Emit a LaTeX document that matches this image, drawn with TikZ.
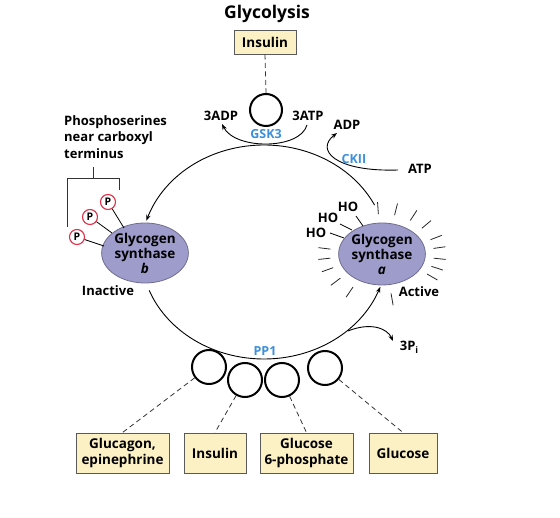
\documentclass[tikz,border=0pt]{standalone}
\usepackage{fontspec}
\setmainfont{Open Sans}
\usetikzlibrary{arrows.meta,shapes.geometric}
\definecolor{boxfill}{HTML}{FCF1C4}
\definecolor{boxline}{HTML}{5A5A5A}
\definecolor{enz}{HTML}{9E9CCB}
\definecolor{enzline}{HTML}{6F6D8F}
\definecolor{kin}{HTML}{3C8FD8}
\definecolor{pred}{HTML}{E03048}
\begin{document}
\begin{tikzpicture}[x=1pt,y=-1pt,
  lbl/.style={font=\bfseries\fontsize{13}{14}\selectfont, inner sep=0pt},
  kinlbl/.style={font=\bfseries\fontsize{12.5}{13}\selectfont, text=kin, inner sep=0pt},
  regbox/.style={draw=boxline, fill=boxfill, line width=0.9pt, minimum height=40pt, inner sep=2pt, align=center, font=\bfseries\fontsize{13.5}{16}\selectfont},
  enzyme/.style={ellipse, draw=enzline, fill=enz, line width=0.8pt, minimum width=86pt, minimum height=60pt, inner sep=0pt, align=center, font=\bfseries\fontsize{13.5}{15}\selectfont},
  ring/.style={circle, draw=black, line width=2pt, minimum size=34pt, inner sep=0pt},
  pcirc/.style={circle, draw=pred, fill=white, line width=1.1pt, minimum size=15pt, inner sep=0pt, font=\bfseries\fontsize{10.5}{10.5}\selectfont},
  dashlink/.style={dashed, dash pattern=on 5pt off 3.5pt, line width=0.8pt, draw=black!80},
  conn/.style={line width=0.9pt, -{Stealth[length=6pt,width=4.5pt]}},
  tick/.style={line width=0.8pt, draw=black!85}
]
\useasboundingbox (0,0) rectangle (560,518);

% title and insulin regulator
\node[font=\bfseries\fontsize{17.5}{19}\selectfont] (title) at (267,14) {Glycolysis};
\node[regbox, minimum width=62pt, minimum height=24pt] (ins1) at (265,42) {Insulin};
\node[ring, minimum size=32pt] (gsk) at (266,110) {};
\draw[dashlink] (ins1.south) -- (gsk.north);

% GSK3 reaction
\node[lbl] (adp3) at (221,116) {3ADP};
\node[lbl] (atp3) at (308,116) {3ATP};
\node[kinlbl] (gsk3) at (266,134) {GSK3};
\coordinate (gskA) at (307,125);
\coordinate (gskB) at (222,124);
\draw[conn] (gskA) .. controls (300,150) and (235,150) .. (gskB);

% CKII reaction
\node[lbl] (adp) at (347,125) {ADP};
\node[lbl] (atp) at (420,169) {ATP};
\node[kinlbl] (ckii) at (354,159) {CKII};
\coordinate (ckA) at (398,170);
\coordinate (ckB) at (337,133);
\draw[conn] (ckA) .. controls (335,172) and (315,150) .. (ckB);

% enzymes
\node[enzyme] (gsb) at (145,253) {Glycogen\\synthase\\\textit{b}};
\node[enzyme, minimum height=62pt] (gsa) at (382,254) {Glycogen\\synthase\\\textit{a}};
\node[lbl] (inact) at (108,291) {Inactive};
\node[lbl] (act) at (419,292) {Active};

% main cycle
\draw[conn] plot[domain=26:163, samples=80] ({264+123*cos(\x)}, {252-107*sin(\x)});
\draw[conn] plot[domain=201:341, samples=80] ({264+123*cos(\x)}, {252-107*sin(\x)});

% phosphoserines
\node[pcirc] (p1) at (77,237) {P};
\node[pcirc] (p2) at (90,217) {P};
\node[pcirc] (p3) at (108,202) {P};
\coordinate (e1) at (104,246);
\coordinate (e2) at (112,233);
\coordinate (e3) at (124,228);
\draw[line width=0.8pt] (p1) -- (e1);
\draw[line width=0.8pt] (p2) -- (e2);
\draw[line width=0.8pt] (p3) -- (e3);
\draw[line width=0.9pt, draw=black!80] (67,227) -- (67,178) -- (119,178) -- (119,190);
\draw[line width=0.9pt, draw=black!80] (93,178) -- (93,167);
\node[lbl, align=left, anchor=north west, font=\bfseries\fontsize{13}{16.5}\selectfont] (phos) at (64,115) {Phosphoserines\\near carboxyl\\terminus};

% hydroxyls
\node[lbl] (ho1) at (348,207) {HO};
\node[lbl] (ho2) at (328,218) {HO};
\node[lbl] (ho3) at (316,233) {HO};
\draw[line width=0.8pt] (356,216) -- (363,226);
\draw[line width=0.8pt] (340,224) -- (352,230);
\draw[line width=0.8pt] (330,233) -- (344,238);

% activity rays
\foreach \t in {94,76,57,40,21,8,-6,-18,-30,-80,-124,-143,-160,-174,173}
  \draw[tick] ({382+(43+9)*cos(\t)}, {254-(31+9)*sin(\t)}) -- ({382+(43+21)*cos(\t)}, {254-(31+21)*sin(\t)});

% PP1 reaction
\node[kinlbl] (pp1) at (265,351) {PP1};
\coordinate (piA) at (348,331);
\coordinate (piB) at (393,341);
\draw[conn] (piA) .. controls (370,322) and (387,328) .. (piB);
\node[lbl] (pi) at (409,347) {3P\raisebox{-3pt}{\fontsize{9}{9}\selectfont i}};

% PP1 regulator rings
\node[ring] (r1) at (209,367) {};
\node[ring] (r2) at (245,380) {};
\node[ring] (r3) at (282,380) {};
\node[ring] (r4) at (325,368) {};

% bottom regulators
\node[regbox, minimum width=93pt] (glu) at (122.5,453) {Glucagon,\\epinephrine};
\node[regbox, minimum width=62pt] (ins2) at (215,453) {Insulin};
\node[regbox, minimum width=93pt] (g6p) at (306.5,453) {Glucose\\6-phosphate};
\node[regbox, minimum width=68pt] (gluc) at (403,453) {Glucose};

\draw[dashlink] (r1) -- (glu.north);
\draw[dashlink] (r2) -- (ins2.north);
\draw[dashlink] (r3) -- (g6p.north);
\draw[dashlink] (r4) -- (gluc.north);
\end{tikzpicture}
\end{document}
